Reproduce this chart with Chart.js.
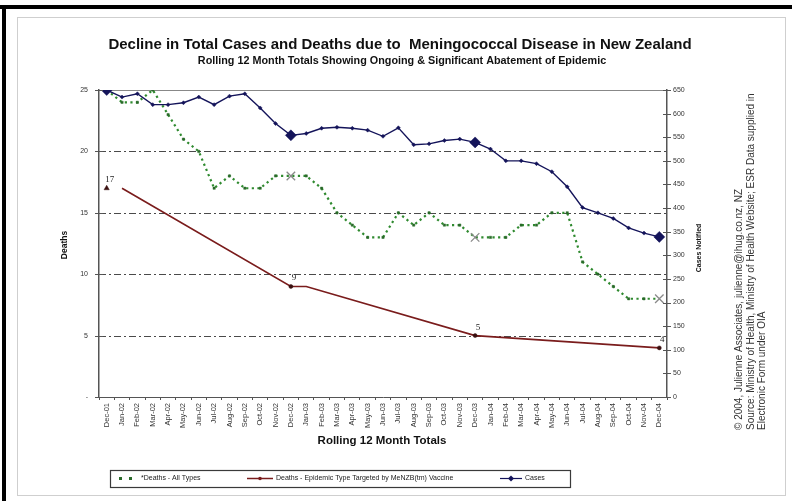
<!DOCTYPE html>
<html>
<head>
<meta charset="utf-8">
<script src="https://cdn.jsdelivr.net/npm/chart.js@4.4.1/dist/chart.umd.min.js"></script>
<style>
  html, body { margin: 0; padding: 0; background: #fff; }
  canvas { display: block; }
</style>
</head>
<body>
<canvas id="c" width="792" height="501"></canvas>
<script>
// Rolling 12-month totals, Dec 2001 - Dec 2004
const months = [
  'Dec-01',
  'Jan-02','Feb-02','Mar-02','Apr-02','May-02','Jun-02','Jul-02','Aug-02','Sep-02','Oct-02','Nov-02','Dec-02',
  'Jan-03','Feb-03','Mar-03','Apr-03','May-03','Jun-03','Jul-03','Aug-03','Sep-03','Oct-03','Nov-03','Dec-03',
  'Jan-04','Feb-04','Mar-04','Apr-04','May-04','Jun-04','Jul-04','Aug-04','Sep-04','Oct-04','Nov-04','Dec-04'
];

// Deaths - all types (left axis)
const deathsAllTypes = [
  25, 24, 24, 25, 23, 21, 20, 17, 18, 17, 17, 18, 18,
  18, 17, 15, 14, 13, 13, 15, 14, 15, 14, 14, 13,
  13, 13, 14, 14, 15, 15, 11, 10, 9, 8, 8, 8
];

// Deaths - epidemic strain (left axis); only year-end figures are known in between
const deathsEpidemic = [
  17, 17, null, null, null, null, null, null, null, null, null, null, 9,
  9, null, null, null, null, null, null, null, null, null, null, 5,
  null, null, null, null, null, null, null, null, null, null, null, 4
];

// Cases notified (right axis)
const casesNotified = [
  650, 635, 642, 619, 619, 623, 635, 619, 637, 642, 612, 579, 554,
  558, 569, 571, 569, 565, 552, 570, 534, 536, 543, 546, 539,
  525, 500, 500, 494, 477, 445, 401, 390, 378, 358, 347, 339
];

const deathTicks = [0, 5, 10, 15, 20, 25];
const deathGridValues = [5, 10, 15, 20];
const caseTicks = [0, 50, 100, 150, 200, 250, 300, 350, 400, 450, 500, 550, 600, 650];

const titleText = 'Decline in Total Cases and Deaths due to  Meningococcal Disease in New Zealand';
const subtitleText = 'Rolling 12 Month Totals Showing Ongoing & Significant Abatement of Epidemic';
const xTitle = 'Rolling 12 Month Totals';
const yTitle = 'Deaths';
const y1Title = 'Cases Notified';
const sourceNote = [
  '\u00A9 2004, Julienne Associates, julienne@ihug.co.nz, NZ',
  'Source: Ministry of Health, Ministry of Health Website; ESR Data supplied in',
  'Electronic Form under OIA'
];

const SANS = '"Liberation Sans", Arial, sans-serif';
const SERIF = '"Liberation Serif", "Times New Roman", serif';
const yearEnds = [0, 12, 24, 36];

const GREEN = '#2f8a2f';
const GREEN_DOT = '#2a6a2a';
const RED = '#7a1c1c';
const NAVY = '#14145a';
const AXIS = '#555';

const decor = {
  id: 'decor',
  beforeDraw(chart) {
    const ctx = chart.ctx;
    ctx.save();
    ctx.fillStyle = '#fff';
    ctx.fillRect(0, 0, chart.width, chart.height);
    // outer black frame (top and left)
    ctx.fillStyle = '#000';
    ctx.fillRect(0, 5, chart.width, 4);
    ctx.fillRect(2, 5, 4, chart.height - 5);
    // light chart border
    ctx.strokeStyle = '#cfcfcf';
    ctx.lineWidth = 1;
    ctx.strokeRect(17.5, 17.5, 768, 478);
    ctx.restore();
  },
  beforeDatasetsDraw(chart) {
    const ctx = chart.ctx;
    const a = chart.chartArea;
    const y = chart.scales.y;
    ctx.save();
    ctx.strokeStyle = '#4a4a4a';
    ctx.lineWidth = 1;
    ctx.setLineDash([7, 3, 2, 3]);
    deathGridValues.forEach(v => {
      const py = Math.round(y.getPixelForValue(v)) + 0.5;
      ctx.beginPath();
      ctx.moveTo(a.left, py);
      ctx.lineTo(a.right, py);
      ctx.stroke();
    });
    ctx.setLineDash([]);
    // top edge of plot area
    ctx.strokeStyle = '#888';
    ctx.beginPath();
    ctx.moveTo(a.left, a.top + 0.5);
    ctx.lineTo(a.right, a.top + 0.5);
    ctx.stroke();
    ctx.restore();
  },
  afterDatasetsDraw(chart) {
    // value labels on the epidemic-strain series
    const ctx = chart.ctx;
    const meta = chart.getDatasetMeta(1);
    const data = chart.data.datasets[1].data;
    ctx.save();
    ctx.fillStyle = '#222';
    ctx.font = '9px ' + SERIF;
    ctx.textAlign = 'center';
    ctx.textBaseline = 'alphabetic';
    yearEnds.forEach(i => {
      const v = data[i];
      if (v == null) return;
      const p = meta.data[i];
      ctx.fillText(String(v), p.x + 3, p.y - 6);
    });
    ctx.restore();
  },
  afterDraw(chart) {
    const ctx = chart.ctx;
    const a = chart.chartArea;
    const y = chart.scales.y;
    const y1 = chart.scales.y1;
    ctx.save();

    // cross tick marks on both value axes
    ctx.strokeStyle = AXIS;
    ctx.lineWidth = 1;
    deathTicks.forEach(v => {
      const py = Math.round(y.getPixelForValue(v)) + 0.5;
      ctx.beginPath();
      ctx.moveTo(a.left - 4, py);
      ctx.lineTo(a.left + 4, py);
      ctx.stroke();
    });
    caseTicks.forEach(v => {
      const py = Math.round(y1.getPixelForValue(v)) + 0.5;
      ctx.beginPath();
      ctx.moveTo(a.right - 4, py);
      ctx.lineTo(a.right + 4, py);
      ctx.stroke();
    });

    // titles
    ctx.fillStyle = '#111';
    ctx.textAlign = 'center';
    ctx.textBaseline = 'middle';
    ctx.font = 'bold 15px ' + SANS;
    ctx.fillText(titleText, 400, 45);
    ctx.font = 'bold 10.8px ' + SANS;
    ctx.fillText(subtitleText, 402, 61);
    ctx.font = 'bold 11.5px ' + SANS;
    ctx.fillText(xTitle, 382, 441);

    // rotated axis titles
    ctx.font = 'bold 8.5px ' + SANS;
    ctx.save();
    ctx.translate(65, 245);
    ctx.rotate(-Math.PI / 2);
    ctx.fillText(yTitle, 0, 0);
    ctx.restore();
    ctx.font = 'bold 7px ' + SANS;
    ctx.save();
    ctx.translate(699, 248);
    ctx.rotate(-Math.PI / 2);
    ctx.fillText(y1Title, 0, 0);
    ctx.restore();

    // source note, rotated
    ctx.fillStyle = '#333';
    ctx.font = '10px ' + SANS;
    ctx.textAlign = 'left';
    ctx.textBaseline = 'alphabetic';
    [742, 754, 765].forEach((x, i) => {
      ctx.save();
      ctx.translate(x, 430);
      ctx.rotate(-Math.PI / 2);
      ctx.fillText(sourceNote[i], 0, 0);
      ctx.restore();
    });

    // legend box
    const ds = chart.data.datasets;
    const lx = 110, ly = 470, lw = 460, lh = 17, cy = ly + lh / 2;
    ctx.strokeStyle = '#3a3a3a';
    ctx.lineWidth = 1.2;
    ctx.strokeRect(lx + 0.5, ly + 0.5, lw, lh);
    ctx.font = '7px ' + SANS;
    ctx.textBaseline = 'middle';
    ctx.fillStyle = '#222';

    // deaths all types: dotted sample
    ctx.fillStyle = GREEN_DOT;
    ctx.fillRect(119, cy - 1.5, 3, 3);
    ctx.fillRect(129, cy - 1.5, 3, 3);
    ctx.fillStyle = '#222';
    ctx.fillText(ds[0].label, 141, cy);

    // epidemic strain: line sample
    ctx.strokeStyle = RED;
    ctx.lineWidth = 1.5;
    ctx.beginPath();
    ctx.moveTo(247, cy);
    ctx.lineTo(273, cy);
    ctx.stroke();
    ctx.fillStyle = RED;
    ctx.beginPath();
    ctx.arc(260, cy, 1.8, 0, Math.PI * 2);
    ctx.fill();
    ctx.fillStyle = '#222';
    ctx.fillText(ds[1].label, 276, cy);

    // cases: line sample
    ctx.strokeStyle = NAVY;
    ctx.lineWidth = 1.2;
    ctx.beginPath();
    ctx.moveTo(500, cy);
    ctx.lineTo(522, cy);
    ctx.stroke();
    ctx.fillStyle = NAVY;
    ctx.beginPath();
    ctx.moveTo(511, cy - 3); ctx.lineTo(514, cy); ctx.lineTo(511, cy + 3); ctx.lineTo(508, cy);
    ctx.closePath();
    ctx.fill();
    ctx.fillStyle = '#222';
    ctx.fillText(ds[2].label, 525, cy);

    ctx.restore();
  }
};

const fixSize = (w, h) => (scale) => {
  if (w != null) scale.width = w;
  if (h != null) scale.height = h;
};

const isCross = ctx => yearEnds.includes(ctx.dataIndex) && ctx.dataIndex !== 0;

new Chart(document.getElementById('c'), {
  type: 'line',
  data: {
    labels: months,
    datasets: [
      {
        label: '*Deaths - All Types',
        data: deathsAllTypes,
        yAxisID: 'y',
        order: 2,
        borderColor: GREEN,
        borderWidth: 2.2,
        borderDash: [2.2, 3.4],
        tension: 0,
        pointStyle: ctx => (isCross(ctx) ? 'crossRot' : 'rect'),
        pointRadius: ctx => (isCross(ctx) ? 6 : 1.6),
        pointBackgroundColor: GREEN_DOT,
        pointBorderColor: ctx => (isCross(ctx) ? '#8a8a8a' : GREEN_DOT),
        pointBorderWidth: ctx => (isCross(ctx) ? 1.3 : 0.5)
      },
      {
        label: 'Deaths - Epidemic Type Targeted by MeNZB(tm) Vaccine',
        data: deathsEpidemic,
        yAxisID: 'y',
        order: 1,
        spanGaps: true,
        borderColor: RED,
        borderWidth: 1.6,
        tension: 0,
        segment: {
          borderColor: ctx => (ctx.p0DataIndex === 0 ? 'rgba(0,0,0,0)' : undefined)
        },
        pointStyle: ctx => (ctx.dataIndex === 0 ? 'triangle' : 'circle'),
        pointRadius: ctx => (yearEnds.includes(ctx.dataIndex) ? (ctx.dataIndex === 0 ? 3 : 2) : 0),
        pointBackgroundColor: '#3a1010',
        pointBorderColor: '#3a1010',
        pointBorderWidth: 0.5
      },
      {
        label: 'Cases',
        data: casesNotified,
        yAxisID: 'y1',
        order: 0,
        borderColor: NAVY,
        borderWidth: 1.4,
        tension: 0,
        pointStyle: 'rectRot',
        pointRadius: ctx => (yearEnds.includes(ctx.dataIndex) ? 5.5 : 2),
        pointBackgroundColor: NAVY,
        pointBorderColor: NAVY,
        pointBorderWidth: 0.5
      }
    ]
  },
  options: {
    responsive: false,
    animation: false,
    devicePixelRatio: 1,
    layout: { padding: { top: 90, left: 0, right: 0, bottom: 0 } },
    plugins: {
      legend: { display: false },
      title: { display: false },
      tooltip: { enabled: false }
    },
    scales: {
      x: {
        type: 'category',
        offset: true,
        afterFit: fixSize(null, 104),
        grid: { display: true, drawOnChartArea: false, drawTicks: true, tickLength: 3, offset: true, color: AXIS },
        border: { display: true, color: AXIS, width: 1 },
        ticks: {
          autoSkip: false,
          minRotation: 90,
          maxRotation: 90,
          padding: 3,
          color: '#333',
          font: { family: SANS, size: 7.5 }
        }
      },
      y: {
        position: 'left',
        min: 0,
        max: 25,
        afterFit: fixSize(99, null),
        afterBuildTicks: scale => { scale.ticks = deathTicks.map(v => ({ value: v })); },
        grid: { display: true, drawOnChartArea: false, drawTicks: false },
        border: { display: true, color: AXIS, width: 1.5 },
        ticks: {
          padding: 11,
          color: '#333',
          font: { family: SANS, size: 7 },
          callback: v => (v === 0 ? '-' : String(v))
        }
      },
      y1: {
        position: 'right',
        min: 0,
        max: 650,
        afterFit: fixSize(125, null),
        afterBuildTicks: scale => { scale.ticks = caseTicks.map(v => ({ value: v })); },
        grid: { display: true, drawOnChartArea: false, drawTicks: false },
        border: { display: true, color: AXIS, width: 1.5 },
        ticks: {
          padding: 6,
          color: '#333',
          font: { family: SANS, size: 7 }
        }
      }
    }
  },
  plugins: [decor]
});
</script>
</body>
</html>
